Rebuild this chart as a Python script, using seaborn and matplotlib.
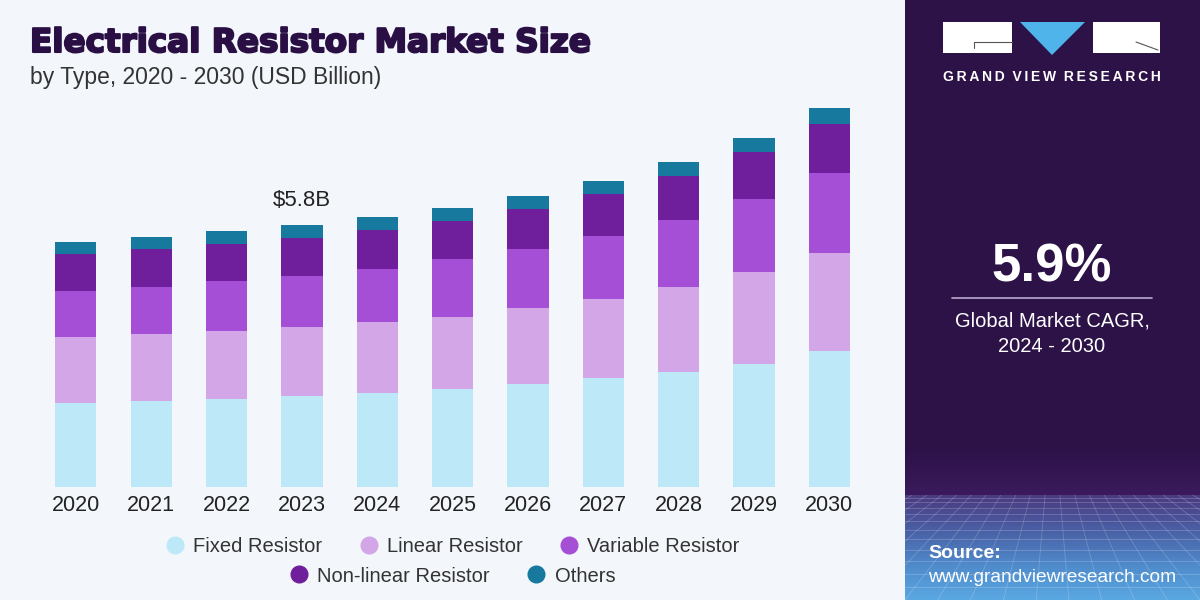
import numpy as np
import pandas as pd
import seaborn as sns
import matplotlib.pyplot as plt
import matplotlib.patheffects as pe
from matplotlib.lines import Line2D
from matplotlib.patches import Rectangle, Polygon
from matplotlib.colors import LinearSegmentedColormap

years = ["2020", "2021", "2022", "2023", "2024", "2025", "2026", "2027", "2028", "2029", "2030"]
fixed = [1.86, 1.90, 1.94, 2.01, 2.07, 2.17, 2.27, 2.40, 2.55, 2.73, 3.01]
linear = [1.45, 1.48, 1.51, 1.53, 1.58, 1.60, 1.69, 1.76, 1.88, 2.03, 2.18]
variable = [1.03, 1.05, 1.10, 1.12, 1.18, 1.27, 1.31, 1.39, 1.48, 1.62, 1.77]
nonlinear = [0.82, 0.84, 0.83, 0.86, 0.85, 0.86, 0.89, 0.93, 0.98, 1.03, 1.09]
others = [0.27, 0.27, 0.28, 0.28, 0.29, 0.27, 0.29, 0.29, 0.31, 0.31, 0.35]

segments = ["Fixed Resistor", "Linear Resistor", "Variable Resistor", "Non-linear Resistor", "Others"]
colors = ["#BDE8F7", "#D3A6E8", "#A54FD6", "#6F1F9B", "#16799D"]

df = pd.DataFrame({"year": years, "Fixed Resistor": fixed, "Linear Resistor": linear,
                   "Variable Resistor": variable, "Non-linear Resistor": nonlinear, "Others": others})

bg = "#F3F7FB"
panel = "#2C1247"

sns.set_style("white")
plt.rcParams["font.family"] = ["Liberation Sans", "DejaVu Sans"]

fig = plt.figure(figsize=(12, 6), dpi=100, facecolor=bg)

# right side panel
fig.patches.append(Rectangle((905 / 1200, 0), 295 / 1200, 1, transform=fig.transFigure,
                             facecolor=panel, edgecolor="none", zorder=-1))

# main chart
ax = fig.add_axes([38.3 / 1200, 0.1888, (867 - 38.3) / 1200, 0.6445])
ax.set_facecolor("none")
cum = df[segments].cumsum(axis=1)
for seg, col in reversed(list(zip(segments, colors))):
    sns.barplot(x=df["year"], y=cum[seg], color=col, saturation=1, width=0.545,
                errorbar=None, linewidth=0, ax=ax, order=years)
ax.set_xlim(-0.5, 10.5)
ax.set_ylim(0, 8.571)
ax.set_xlabel("")
ax.set_ylabel("")
ax.set_yticks([])
sns.despine(ax=ax, left=True, bottom=True)
ax.tick_params(axis="x", length=0, pad=6, labelsize=15.5, labelcolor="#222222")

total_2023 = cum["Others"][3]
ax.annotate(r"\$%.1fB" % total_2023, xy=(3, total_2023), xytext=(0, 18), textcoords="offset points",
            ha="center", va="center", fontsize=16, color="#222222")

# titles
fig.text(30 / 1200, 1 - 52 / 600, "Electrical Resistor Market Size", fontsize=23.5, fontweight="bold",
         family="DejaVu Sans", color="#2A0F45", va="baseline",
         path_effects=[pe.withStroke(linewidth=1.5, foreground="#2A0F45")])
fig.text(30 / 1200, 1 - 84 / 600, "by Type, 2020 - 2030 (USD Billion)", fontsize=16.5,
         color="#333333", va="baseline")

# legend in two rows
handles = [Line2D([], [], marker="o", ls="", markersize=12, color=c) for c in colors]
fig.legend(handles[:3], segments[:3], loc="center", bbox_to_anchor=(0.376, 1 - 547 / 600), ncol=3,
           frameon=False, fontsize=14.5, handletextpad=0.3, columnspacing=1.7, handlelength=1.2,
           labelcolor="#333333")
fig.legend(handles[3:], segments[3:], loc="center", bbox_to_anchor=(0.376, 1 - 576 / 600), ncol=2,
           frameon=False, fontsize=14.5, handletextpad=0.3, columnspacing=1.7, handlelength=1.2,
           labelcolor="#333333")

# soft glow above the grid
hax = fig.add_axes([905 / 1200, 105 / 600, 295 / 1200, 50 / 600])
hcmap = LinearSegmentedColormap.from_list("h", [panel, "#3A1A5C"])
hax.imshow(np.linspace(0, 1, 50).reshape(-1, 1), aspect="auto", cmap=hcmap, extent=(0, 1, 0, 1), origin="lower")
hax.axis("off")
hax.set_ylim(1, 0)

# bottom gradient grid in the panel
gax = fig.add_axes([905 / 1200, 0, 295 / 1200, 105 / 600])
cmap = LinearSegmentedColormap.from_list("g", ["#4A3A80", "#4A5FA5", "#4F8ACB", "#5AA8E2"])
gax.imshow(np.linspace(0, 1, 200).reshape(-1, 1), aspect="auto", cmap=cmap, extent=(0, 1, 0, 1), origin="upper")
for yy in [0.97, 0.93, 0.88, 0.82, 0.75, 0.67, 0.58, 0.48, 0.37, 0.25, 0.12]:
    gax.plot([0, 1], [yy, yy], color="white", alpha=0.22, lw=0.6)
for xb in np.linspace(-2.0, 3.0, 46):
    gax.plot([0.5 + (xb - 0.5) * 0.45, xb], [1.0, 0], color="white", alpha=0.2, lw=0.6)
gax.set_xlim(0, 1)
gax.set_ylim(0, 1)
gax.axis("off")

# logo
def fx(px):
    return px / 1200

def fy(py):
    return 1 - py / 600

fig.patches.append(Rectangle((fx(943), fy(53)), fx(69), 31 / 600, transform=fig.transFigure,
                             facecolor="white", edgecolor="none", zorder=2))
fig.patches.append(Rectangle((fx(1093), fy(53)), fx(67), 31 / 600, transform=fig.transFigure,
                             facecolor="white", edgecolor="none", zorder=2))
fig.patches.append(Polygon([(fx(1020), fy(22)), (fx(1085), fy(22)), (fx(1052), fy(55))],
                           transform=fig.transFigure, facecolor="#4FB4EA", edgecolor="none", zorder=2))
fig.add_artist(Line2D([fx(974), fx(1012)], [fy(42), fy(42)], transform=fig.transFigure,
                      color="#555555", lw=0.8, zorder=3))
fig.add_artist(Line2D([fx(974), fx(974)], [fy(42), fy(48)], transform=fig.transFigure,
                      color="#555555", lw=0.8, zorder=3))
fig.add_artist(Line2D([fx(1136), fx(1158)], [fy(42), fy(50)], transform=fig.transFigure,
                      color="#555555", lw=0.8, zorder=3))
fig.text(fx(1052), fy(77), "G R A N D   V I E W   R E S E A R C H".replace(" ", "\u2009").replace("\u2009\u2009\u2009", "  "),
         ha="center", va="center", fontsize=10, fontweight="bold", color="white")

# CAGR block
fig.text(fx(1052), fy(268), "5.9%", ha="center", va="center", fontsize=38, fontweight="bold", color="white")
fig.add_artist(Line2D([fx(952), fx(1152)], [fy(298), fy(298)], transform=fig.transFigure,
                      color="#B9A9CF", lw=1.2))
fig.text(fx(1052), fy(321), "Global Market CAGR,", ha="center", va="center", fontsize=14.5, color="white")
fig.text(fx(1052), fy(346), "2024 - 2030", ha="center", va="center", fontsize=14.5, color="white")

fig.text(fx(928), fy(553), "Source:", ha="left", va="center", fontsize=14, fontweight="bold", color="white")
fig.text(fx(928), fy(577), "www.grandviewresearch.com", ha="left", va="center", fontsize=13.8, color="white")

fig.savefig("out.png", dpi=100, facecolor=bg)
